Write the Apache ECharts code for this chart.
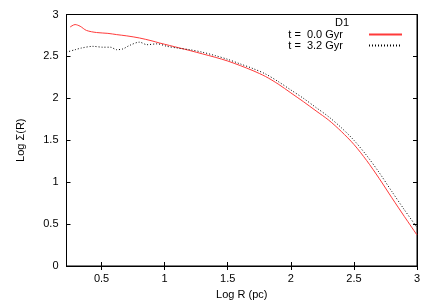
<!DOCTYPE html>
<html><head><meta charset="utf-8">
<script src="https://cdn.jsdelivr.net/npm/echarts@6/dist/echarts.min.js"></script>
<style>html,body{margin:0;padding:0;background:#fff}#c{width:436px;height:305px}</style>
</head><body><div id="c"></div>
<script>
const xTicks = [0.5, 1, 1.5, 2, 2.5, 3];
const redX = [0.25, 0.29, 0.33, 0.38, 0.46, 0.55, 0.62, 0.70, 0.80, 0.90, 0.96, 1.04, 1.12, 1.20, 1.30, 1.40, 1.50, 1.60, 1.70, 1.80, 1.90, 2.00, 2.10, 2.20, 2.30, 2.40, 2.50, 2.60, 2.70, 2.80, 2.90, 3.00];
const redY = [2.85, 2.88, 2.86, 2.81, 2.785, 2.775, 2.76, 2.745, 2.72, 2.685, 2.66, 2.63, 2.60, 2.57, 2.53, 2.49, 2.445, 2.39, 2.33, 2.26, 2.17, 2.065, 1.96, 1.85, 1.74, 1.605, 1.45, 1.26, 1.045, 0.815, 0.59, 0.37];
const blkX = [0.22, 0.29, 0.34, 0.43, 0.51, 0.57, 0.62, 0.67, 0.72, 0.80, 0.86, 0.94, 1.02, 1.10, 1.20, 1.30, 1.40, 1.50, 1.60, 1.70, 1.80, 1.90, 2.00, 2.10, 2.20, 2.30, 2.40, 2.50, 2.60, 2.70, 2.80, 2.90, 3.00];
const blkY = [2.55, 2.58, 2.60, 2.62, 2.61, 2.61, 2.58, 2.59, 2.63, 2.67, 2.64, 2.65, 2.62, 2.60, 2.58, 2.55, 2.51, 2.465, 2.41, 2.355, 2.29, 2.20, 2.10, 2.00, 1.89, 1.78, 1.65, 1.50, 1.32, 1.115, 0.89, 0.67, 0.46];
const seriesNames = ['t =  0.0 Gyr', 't =  3.2 Gyr'];
const panelLabel = 'D1';

const font = 'Liberation Sans, Arial, sans-serif';
const pair = (xs, ys) => xs.map((x, i) => [x, ys[i]]);
const chart = echarts.init(document.getElementById('c'), null, {renderer: 'canvas'});
const axLine = {show: true, lineStyle: {color: '#000', width: 1}};
chart.setOption({
  animation: false,
  backgroundColor: '#fff',
  grid: {left: 66.5, right: 19, top: 14.5, bottom: 39, show: true, borderColor: '#000', borderWidth: 1},
  title: {text: panelLabel, left: 335, top: 17, padding: 0, textStyle: {fontFamily: font, fontSize: 11, fontWeight: 'normal', color: '#000'}},
  legend: {
    orient: 'vertical', right: 33, top: 29, align: 'right', itemGap: 0, padding: 0,
    itemWidth: 33, itemHeight: 12.5,
    itemStyle: {opacity: 0},
    textStyle: {fontFamily: font, fontSize: 11, color: '#000', padding: [0, 21, 0, 0]},
    data: seriesNames
  },
  xAxis: [{
    type: 'value', min: 0.222, max: 3, position: 'bottom',
    name: 'Log R (pc)', nameLocation: 'middle', nameGap: 23,
    nameTextStyle: {fontFamily: font, fontSize: 11, color: '#000'},
    axisLine: axLine,
    axisTick: {inside: true, length: 4, customValues: xTicks, lineStyle: {color: '#000'}},
    axisLabel: {customValues: xTicks, margin: 7, fontFamily: font, fontSize: 11, color: '#000'},
    splitLine: {show: false}
  }, {
    type: 'value', min: 0.222, max: 3, position: 'top',
    axisLine: axLine,
    axisTick: {inside: true, length: 4, customValues: xTicks, lineStyle: {color: '#000'}},
    axisLabel: {show: false}, splitLine: {show: false}
  }],
  yAxis: [{
    type: 'value', min: 0, max: 3, interval: 0.5, position: 'left',
    name: 'Log Σ(R)', nameLocation: 'middle', nameGap: 40,
    nameTextStyle: {fontFamily: font, fontSize: 11, color: '#000'},
    axisLine: axLine,
    axisTick: {inside: true, length: 4, lineStyle: {color: '#000'}},
    axisLabel: {margin: 8, fontFamily: font, fontSize: 11, color: '#000'},
    splitLine: {show: false}
  }, {
    type: 'value', min: 0, max: 3, interval: 0.5, position: 'right',
    axisLine: axLine,
    axisTick: {inside: true, length: 4, lineStyle: {color: '#000'}},
    axisLabel: {show: false}, splitLine: {show: false}
  }],
  series: [{
    name: seriesNames[0], type: 'line', smooth: 0.3, showSymbol: false, symbol: 'none',
    lineStyle: {color: '#ff3a3a', width: 1}, itemStyle: {color: '#ff3a3a'},
    data: pair(redX, redY)
  }, {
    name: seriesNames[1], type: 'line', smooth: 0.3, showSymbol: false, symbol: 'none',
    lineStyle: {color: '#000', width: 1, type: [1, 2]}, itemStyle: {color: '#000'},
    data: pair(blkX, blkY)
  }]
});
</script></body></html>
